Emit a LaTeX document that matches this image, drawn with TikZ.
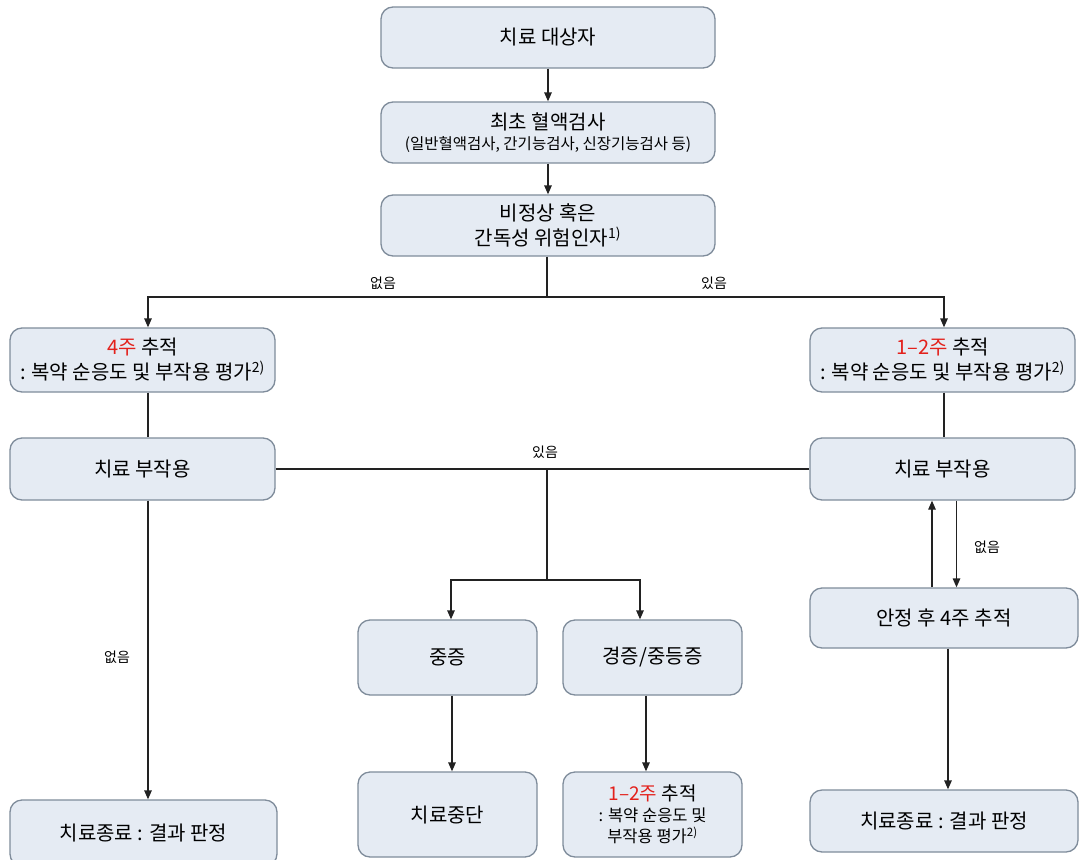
\documentclass[tikz,border=0pt]{standalone}
\usepackage{fontspec}
\setmainfont{Noto Sans CJK KR}
\usetikzlibrary{arrows.meta}
\definecolor{boxfill}{HTML}{E5EBF3}
\definecolor{boxdraw}{HTML}{7F8C9B}
\definecolor{accent}{HTML}{E3211C}
\definecolor{linecol}{HTML}{222222}
\begin{document}
\begin{tikzpicture}[x=1pt,y=-1pt,
  box/.style={draw=boxdraw, line width=1.3pt, fill=boxfill, rounded corners=12pt,
    inner sep=0pt, align=center, font=\fontsize{20}{25}\selectfont},
  lbl/.style={font=\fontsize{14}{16}\selectfont, inner sep=1pt},
  conn/.style={draw=linecol, line width=1.3pt},
  arr/.style={conn, -{Triangle[length=9pt,width=7.5pt]}}]
\useasboundingbox (0,0) rectangle (1081,859);
\fill[white] (0,0) rectangle (1081,859);
% nodes
\node[box, minimum width=334pt, minimum height=61pt] (top) at (548,37.5) {치료 대상자};
\node[box, minimum width=334pt, minimum height=61pt] (blood) at (548,132.5)
  {최초 혈액검사\\[-5pt]{\fontsize{15.5}{17}\selectfont (일반혈액검사, 간기능검사, 신장기능검사 등)}};
\node[box, minimum width=334pt, minimum height=61pt] (risk) at (548,225.5)
  {비정상 혹은\\간독성 위험인자\textsuperscript{1)}};
\node[box, minimum width=265pt, minimum height=64pt] (f4) at (142.5,360)
  {\textcolor{accent}{4주} 추적\\: 복약 순응도 및 부작용 평가\textsuperscript{2)}};
\node[box, minimum width=265pt, minimum height=64pt] (f12) at (942.5,360)
  {\textcolor{accent}{1–2주} 추적\\: 복약 순응도 및 부작용 평가\textsuperscript{2)}};
\node[box, minimum width=265pt, minimum height=62pt] (seL) at (142.5,469) {치료 부작용};
\node[box, minimum width=265pt, minimum height=62pt] (seR) at (942.5,469) {치료 부작용};
\node[box, minimum width=179pt, minimum height=75pt] (severe) at (447.5,657.5) {중증};
\node[box, minimum width=179pt, minimum height=75pt] (mild) at (652.5,657.5) {경증/중등증};
\node[box, minimum width=179pt, minimum height=85pt] (stop) at (447.5,814.5) {치료중단};
\node[box, minimum width=179pt, minimum height=85pt, font=\fontsize{16.5}{21}\selectfont] (f12b) at (652.5,814.5)
  {\raisebox{0pt}[0pt][0pt]{}{\fontsize{19}{21}\selectfont\textcolor{accent}{1–2주} 추적}\\: 복약 순응도 및\\부작용 평가\textsuperscript{2)}};
\node[box, minimum width=268pt, minimum height=60pt] (stable) at (944,618) {안정 후 4주 추적};
\node[box, minimum width=268pt, minimum height=62pt] (endR) at (944,821) {치료종료 : 결과 판정};
\node[box, minimum width=267pt, minimum height=66pt] (endL) at (143.5,833) {치료종료 : 결과 판정};
% junction coordinates
\coordinate (j1) at (547,297);
\coordinate (j2) at (547,469);
\coordinate (j3) at (547,580);
% connectors
\draw[arr] (top.south) -- (blood.north);
\draw[arr] (blood.south) -- (risk.north);
\draw[conn] ([xshift=-1pt]risk.south) -- (j1);
\draw[arr] (j1) -| ([xshift=5.5pt]f4.north);
\draw[arr] (j1) -| ([xshift=1.5pt]f12.north);
\draw[conn] ([xshift=5.5pt]f4.south) -- ([xshift=5.5pt]seL.north);
\draw[conn] ([xshift=1.5pt]f12.south) -- ([xshift=1.5pt]seR.north);
\draw[conn] (seL.east) -- (seR.west);
\draw[conn] (j2) -- (j3);
\draw[arr] (j3) -| ([xshift=3.5pt]severe.north);
\draw[arr] (j3) -| ([xshift=-12.5pt]mild.north);
\draw[arr] ([xshift=4.5pt]severe.south) -- ([xshift=4.5pt]stop.north);
\draw[arr] ([xshift=-6.5pt]mild.south) -- ([xshift=-6.5pt]f12b.north);
\draw[arr] ([xshift=5.5pt]seL.south) -- ([xshift=4.5pt]endL.north);
\draw[arr] ([xshift=14pt]seR.south) -- ([xshift=14pt]stable.north -| seR.south);
\draw[arr] ([xshift=-10.5pt]stable.north -| seR.south) -- ([xshift=-10.5pt]seR.south);
\draw[arr] ([xshift=4pt]stable.south) -- ([xshift=4pt]endR.north);
% labels
\node[lbl] (l1) at (383,283) {없음};
\node[lbl] (l2) at (714,283) {있음};
\node[lbl] (l3) at (545,452) {있음};
\node[lbl] (l4) at (117,657) {없음};
\node[lbl] (l5) at (987,547) {없음};
\end{tikzpicture}
\end{document}
